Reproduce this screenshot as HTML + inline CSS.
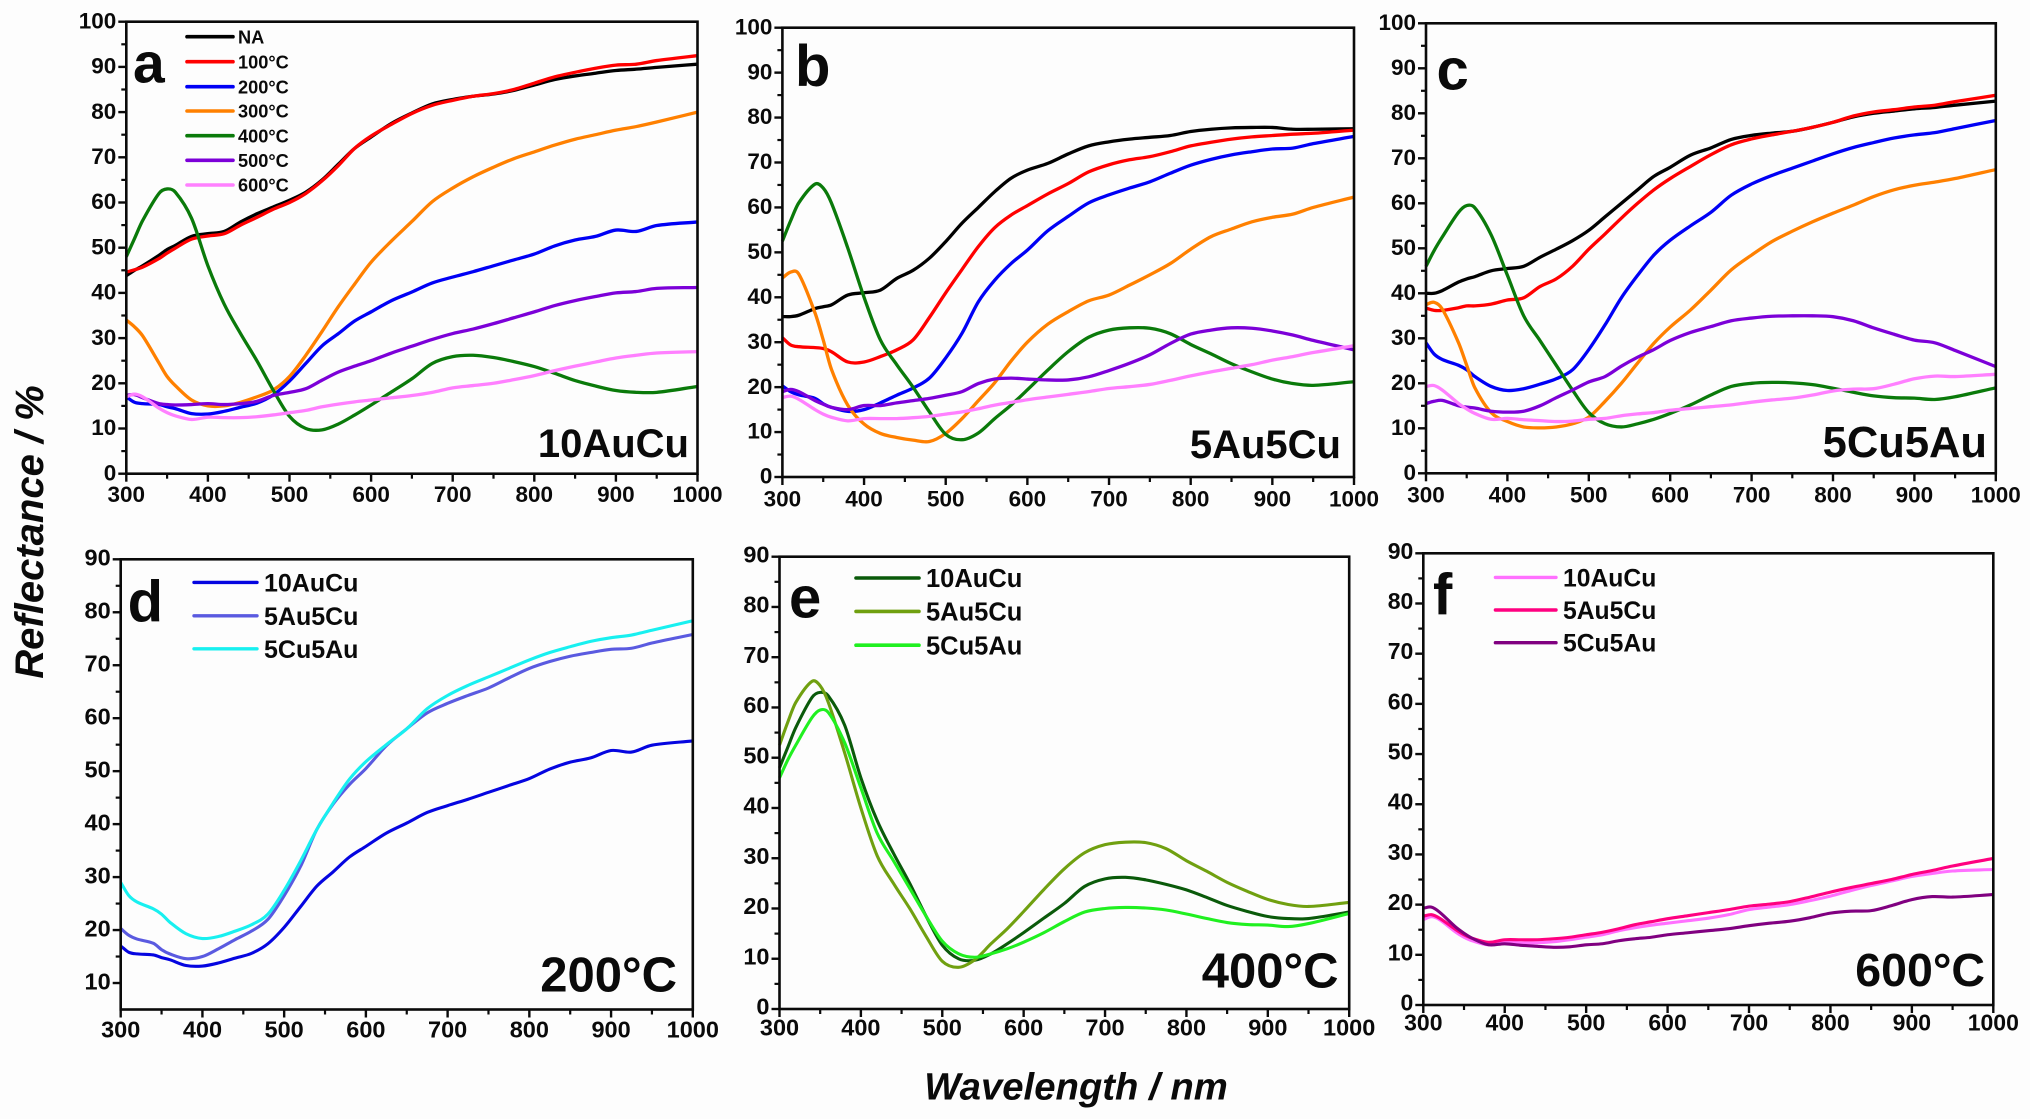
<!DOCTYPE html>
<html lang="en">
<head>
<meta charset="utf-8">
<title>Reflectance spectra</title>
<style>
  html, body { margin: 0; padding: 0; background: #fdfdfd; }
  svg { display: block; font-family: "Liberation Sans", sans-serif; font-weight: bold; fill: #0a0a0a; }
</style>
</head>
<body>
<svg id="figure" xmlns="http://www.w3.org/2000/svg" width="2030" height="1119" viewBox="0 0 2030 1119">
  <rect x="0" y="0" width="2030" height="1119" fill="#fdfdfd"/>
  <text transform="translate(43,532) rotate(-90)" text-anchor="middle" font-size="40" font-style="italic">Reflectance / %</text>
  <text x="1076" y="1099.5" text-anchor="middle" font-size="38.3" font-style="italic">Wavelength / nm</text>
</svg>
<script>
// Shared wavelength grid (nm)
const wavelengths = [300,310,320,340,350,360,380,400,420,440,460,480,500,520,540,560,580,600,625,650,675,700,725,750,775,800,825,850,875,900,925,950,1000];

// Panel a: 10AuCu
const a_NA  = [43.8,45,46,48.3,49.6,50.5,52.5,53.1,53.6,55.7,57.5,59,60.5,62.3,65,68.5,72,74.5,77.5,79.8,81.8,82.8,83.5,84,84.8,86,87.2,88,88.6,89.2,89.5,89.9,90.6];
const a_100 = [44.6,45.1,45.7,47.6,48.8,49.9,51.9,52.6,53.1,55,56.7,58.5,60,62,64.8,68.2,72,74.7,77.3,79.7,81.5,82.6,83.5,84.1,85,86.4,87.8,88.8,89.7,90.4,90.6,91.4,92.5];
const a_200 = [17,15.8,15.5,15.3,14.8,14.4,13.3,13.2,13.8,14.7,15.6,17.4,20.5,24.4,28.3,31,33.8,35.8,38.3,40.2,42.2,43.5,44.7,46,47.3,48.6,50.4,51.7,52.5,53.9,53.6,54.9,55.7];
const a_300 = [34,32.5,30.5,24.5,21.5,19.5,16.3,15,15,15.8,17,18.5,21.5,26.2,31.5,37,42,46.8,51.5,55.8,60.2,63.2,65.7,67.8,69.7,71.2,72.7,74,75,76,76.8,77.8,80];
const a_400 = [48,52,56,62,63,62.3,56.5,46,37.5,31,25,18.5,12.7,10,9.7,11,13,15.2,18.1,21,24.4,25.9,26.2,25.7,24.8,23.7,22.2,20.6,19.4,18.4,18,18,19.3];
const a_500 = [17.3,17.5,16.8,15.5,15.3,15.2,15.3,15.5,15.3,15.5,16,17.3,18,18.8,20.7,22.5,23.8,25,26.7,28.2,29.7,31,32,33.2,34.5,35.8,37.2,38.3,39.2,40,40.3,41,41.2];
const a_600 = [17,17.6,17,14.5,13.5,12.8,12,12.5,12.4,12.4,12.6,13,13.5,14,14.8,15.4,15.9,16.3,16.8,17.3,18,19,19.5,20,20.8,21.7,22.8,23.8,24.7,25.6,26.2,26.7,27];

// Panel b: 5Au5Cu
const b_NA  = [35.7,35.7,36,37.5,37.9,38.3,40.5,41,41.6,44.2,46,48.7,52.4,56.5,60,63.5,66.5,68.3,69.8,71.9,73.7,74.6,75.2,75.6,76,76.9,77.4,77.7,77.8,77.8,77.4,77.4,77.5];
const b_100 = [31,29.4,29,28.8,28.6,27.9,25.6,25.6,26.8,28.3,30.5,35.5,41,46.2,51.3,55.5,58.3,60.4,63,65.3,67.9,69.5,70.6,71.3,72.4,73.7,74.5,75.2,75.7,76,76.3,76.5,77.2];
const b_200 = [20.3,19,18.3,17.5,16.3,15.5,14.6,15,16.5,18.2,19.8,22,26.5,32,39,43.8,47.5,50.5,54.8,58,61,62.8,64.3,65.7,67.6,69.4,70.7,71.7,72.4,73,73.2,74.2,75.8];
const b_300 = [44.3,45.6,45.2,36.5,30.5,24,16,11.8,9.7,8.8,8.2,7.9,9.7,13,17,21,25.8,30,34,36.8,39.2,40.5,42.7,45,47.5,50.7,53.5,55.2,56.8,57.8,58.5,60,62.3];
const b_400 = [52.5,57,61,65.2,64.3,61,51,40,30.5,25,20,14.5,9.5,8.3,9.8,13,16,19.4,23.8,27.9,31.1,32.7,33.2,33.1,31.9,29.5,27.4,25.2,23.4,21.8,20.8,20.4,21.2];
const b_500 = [19,19.5,19,17,16.2,15.5,15,15.9,15.9,16.5,17,17.5,18.2,19,20.8,21.8,22,21.8,21.6,21.6,22.3,23.7,25.3,27.2,29.7,31.8,32.7,33.2,33.1,32.5,31.6,30.4,28.3];
const b_600 = [17.7,18,17.3,15,14,13.3,12.5,13,13,13,13.2,13.5,14,14.5,15.2,16,16.6,17.2,17.8,18.4,19,19.7,20.1,20.6,21.5,22.5,23.4,24.2,25,26,26.8,27.7,29.2];

// Panel c: 5Cu5Au
const c_NA  = [40,40,40.6,42.5,43.2,43.7,45,45.5,46,48,49.8,51.7,54,57,60,63,66,68,70.7,72.3,74.2,75.1,75.6,76,76.9,78,79.2,80,80.5,81,81.3,81.8,82.7];
const c_100 = [36.7,36.2,36.2,36.8,37.2,37.2,37.6,38.5,39,41.5,43.2,46,49.8,53.2,56.7,60,63,65.5,68.2,70.8,73,74.3,75.2,76,76.9,78,79.4,80.3,80.8,81.4,81.8,82.6,84];
const c_200 = [29,26.5,25.3,24,23,21.5,19.3,18.4,18.8,19.8,21,23,27.5,33,39,44,48.5,51.8,55,58,61.8,64.3,66.2,67.8,69.4,71,72.4,73.5,74.5,75.2,75.7,76.6,78.4];
const c_300 = [37.5,38,36.5,29,24,19,13.5,11.5,10.3,10.1,10.3,11,12.5,16,20,24.5,28.9,32.5,36.3,40.7,45.2,48.5,51.5,53.8,55.9,57.8,59.6,61.5,63,64,64.7,65.5,67.5];
const c_400 = [46,49.5,52.5,58,59.5,59,53,44,35,29.5,24,18.5,13.5,11,10.3,11,12,13.3,15.2,17.4,19.3,20,20.2,20.1,19.7,18.9,18,17.2,16.8,16.7,16.4,17,19];
const c_500 = [15.5,16,16.2,15,14.7,14.5,13.8,13.6,13.8,15,16.8,18.5,20.3,21.5,23.8,25.8,27.5,29.5,31.3,32.6,33.9,34.5,34.9,35,35,34.8,33.9,32.3,30.9,29.6,29,27.3,23.7];
const c_600 = [19.3,19.5,18.5,15.5,14.3,13.3,12,12.2,11.9,11.7,11.5,11.6,12,12.2,12.8,13.2,13.5,14,14.4,14.8,15.2,15.8,16.3,16.7,17.4,18.3,18.7,18.8,19.8,21,21.6,21.5,22];

// Tick labels
const xTicks = [300,400,500,600,700,800,900,1000];
const yTicks100 = [0,10,20,30,40,50,60,70,80,90,100];
const yTicks90 = [0,10,20,30,40,50,60,70,80,90];
const yTicks90From10 = [10,20,30,40,50,60,70,80,90];

// Legend names
const tempNames = ['NA','100°C','200°C','300°C','400°C','500°C','600°C'];
const alloyNames = ['10AuCu','5Au5Cu','5Cu5Au'];

const tempColors = ['#000000','#ff0000','#0000f5','#ff8000','#0a7a0a','#7c00d8','#ff80ff'];

const panels = [
  { id:'a', box:[126.3,697.5,21.7,473.7], yr:[0,100], yt:yTicks100, tick:22.5, xl:28.5, yl:1.2, lw:3.3,
    series:[a_NA,a_100,a_200,a_300,a_400,a_500,a_600], names:tempNames, colors:tempColors,
    leg:{x1:187,x2:233,tx:238,ys:[36.7,61.7,86.7,111,135.7,160.3,185],fs:18.2,lw:3.6},
    letter:{x:133,y:82.7,fs:57}, cond:{t:'10AuCu',x:689,y:457,fs:40} },
  { id:'b', box:[782.4,1354,27.7,477], yr:[0,100], yt:yTicks100, tick:22.5, xl:29.5, yl:1.2, lw:3.3,
    series:[b_NA,b_100,b_200,b_300,b_400,b_500,b_600], names:null, colors:tempColors, leg:null,
    letter:{x:795,y:86,fs:58}, cond:{t:'5Au5Cu',x:1341,y:458,fs:40} },
  { id:'c', box:[1426,1995.8,23.3,473.3], yr:[0,100], yt:yTicks100, tick:22.5, xl:29, yl:1.2, lw:3.3,
    series:[c_NA,c_100,c_200,c_300,c_400,c_500,c_600], names:null, colors:tempColors, leg:null,
    letter:{x:1436.5,y:89.3,fs:58}, cond:{t:'5Cu5Au',x:1987,y:457,fs:43.5} },
  { id:'d', box:[120.7,692.8,559.3,1009.5], yr:[5,90], yt:yTicks90From10, tick:23.5, xl:28, yl:1.8, lw:3.1,
    series:[a_200,b_200,c_200], names:alloyNames, colors:['#0505e0','#5a5ae0','#18f0f0'],
    leg:{x1:194,x2:257,tx:264,ys:[582.4,615.8,648.8],fs:25,lw:3.4},
    letter:{x:127.6,y:621.5,fs:58}, cond:{t:'200°C',x:677,y:991.5,fs:49} },
  { id:'e', box:[779.5,1349.2,556.7,1009], yr:[0,90], yt:yTicks90, tick:23.5, xl:26.5, yl:2.6, lw:3.1,
    series:[a_400,b_400,c_400], names:alloyNames, colors:['#0a5a0a','#70a010','#20f020'],
    leg:{x1:856,x2:919,tx:926,ys:[578,611.4,645.2],fs:25.5,lw:3.6},
    letter:{x:789,y:617.5,fs:58}, cond:{t:'400°C',x:1338.5,y:987.5,fs:49} },
  { id:'f', box:[1423.3,1993.3,553.3,1005], yr:[0,90], yt:yTicks90, tick:23, xl:25.5, yl:2.6, lw:3.1,
    series:[a_600,b_600,c_600], names:alloyNames, colors:['#ff70ff','#ff0080','#800080'],
    leg:{x1:1495.4,x2:1556,tx:1563,ys:[577.4,610,642.7],fs:24.7,lw:3.4},
    letter:{x:1433,y:614.5,fs:58}, cond:{t:'600°C',x:1985,y:986,fs:46.5} }
];

const NS = 'http://www.w3.org/2000/svg';
const root = document.getElementById('figure');

function make(tag, attrs, parent, text) {
  const node = document.createElementNS(NS, tag);
  for (const k in attrs) node.setAttribute(k, attrs[k]);
  if (text !== undefined) node.textContent = text;
  parent.appendChild(node);
  return node;
}

function smoothPath(pts) {
  const n = pts.length;
  const slope = function (i) {
    const a = pts[Math.max(0, i - 1)], b = pts[Math.min(n - 1, i + 1)];
    return (b[1] - a[1]) / (b[0] - a[0]);
  };
  let d = 'M' + pts[0][0].toFixed(2) + ' ' + pts[0][1].toFixed(2);
  for (let i = 0; i < n - 1; i++) {
    const p1 = pts[i], p2 = pts[i + 1];
    const dx = (p2[0] - p1[0]) / 3;
    d += 'C' + (p1[0] + dx).toFixed(2) + ' ' + (p1[1] + slope(i) * dx).toFixed(2) + ' ' +
         (p2[0] - dx).toFixed(2) + ' ' + (p2[1] - slope(i + 1) * dx).toFixed(2) + ' ' +
         p2[0].toFixed(2) + ' ' + p2[1].toFixed(2);
  }
  return d;
}

panels.forEach(function (p) {
  const L = p.box[0], R = p.box[1], T = p.box[2], B = p.box[3];
  const sx = function (v) { return L + (v - 300) / 700 * (R - L); };
  const sy = function (v) { return B - (v - p.yr[0]) / (p.yr[1] - p.yr[0]) * (B - T); };

  const g = make('g', {}, root);
  
  

  // Curves
  p.series.forEach(function (vals, i) {
    const pts = vals.map(function (v, k) { return [sx(wavelengths[k]), sy(v)]; });
    const path = make('path', { d: smoothPath(pts), fill: 'none', stroke: p.colors[i], 'stroke-width': p.lw, 'stroke-linejoin': 'round' }, g);
    
    
  });

  // Frame
  const frame = make('rect', { x: L, y: T, width: R - L, height: B - T, fill: 'none', stroke: '#0a0a0a', 'stroke-width': 2.6 }, g);
  
  

  // X ticks
  xTicks.forEach(function (v, i) {
    const x = sx(v);
    const t = make('line', { x1: x, x2: x, y1: B, y2: B + 8, stroke: '#0a0a0a', 'stroke-width': 2.4 }, g);
    
    
    const lab = make('text', { x: x, y: B + p.xl, 'text-anchor': 'middle', 'font-size': p.tick }, g, String(v));
    
    
    if (i < xTicks.length - 1) {
      const mx = sx((v + xTicks[i + 1]) / 2);
      const m = make('line', { x1: mx, x2: mx, y1: B, y2: B + 5, stroke: '#0a0a0a', 'stroke-width': 2.2 }, g);
      
      
    }
  });

  // Y ticks
  p.yt.forEach(function (v, i) {
    const y = sy(v);
    const t = make('line', { x1: L - 8, x2: L, y1: y, y2: y, stroke: '#0a0a0a', 'stroke-width': 2.4 }, g);
    
    
    const lab = make('text', { x: L - 10, y: y + p.tick * 0.35 - p.yl, 'text-anchor': 'end', 'font-size': p.tick }, g, String(v));
    
    
    if (i < p.yt.length - 1) {
      const my = sy((v + p.yt[i + 1]) / 2);
      const m = make('line', { x1: L - 5, x2: L, y1: my, y2: my, stroke: '#0a0a0a', 'stroke-width': 2.2 }, g);
      
      
    }
  });

  // Legend
  if (p.leg) {
    p.names.forEach(function (name, i) {
      const y = p.leg.ys[i];
      const line = make('line', { x1: p.leg.x1, x2: p.leg.x2, y1: y, y2: y, stroke: p.colors[i], 'stroke-width': p.leg.lw, 'stroke-linecap': 'round' }, g);
      
      
      const lab = make('text', { x: p.leg.tx, y: y + p.leg.fs * 0.36, 'font-size': p.leg.fs }, g, name);
      
      
    });
  }

  // Panel letter and condition label
  const letter = make('text', { x: p.letter.x, y: p.letter.y, 'font-size': p.letter.fs }, g, p.id);
  
  
  const cond = make('text', { x: p.cond.x, y: p.cond.y, 'text-anchor': 'end', 'font-size': p.cond.fs }, g, p.cond.t);
  
  
});
</script>
</body>
</html>
